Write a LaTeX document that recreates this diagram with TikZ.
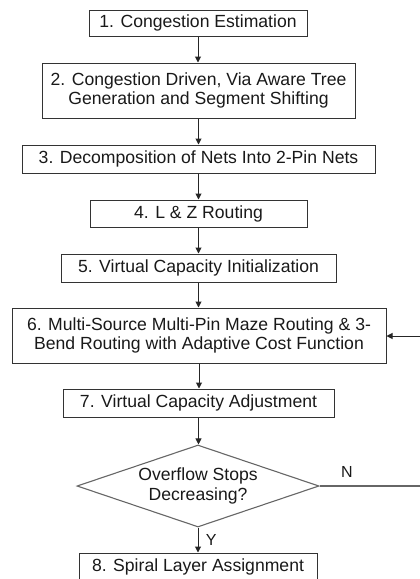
\documentclass[tikz,border=0pt]{standalone}
\usepackage{fontspec}
\setmainfont{Liberation Sans}
\usetikzlibrary{shapes.geometric,arrows.meta}
\begin{document}
\begin{tikzpicture}[x=1pt,y=-1pt,
  box/.style={draw=black!80, line width=1pt, rectangle, inner sep=0pt, align=center,
     font=\fontsize{17.6}{19.5}\selectfont, text=black!90},
  dia/.style={draw=black!60, line width=1.1pt, diamond, aspect=2.95, inner sep=-6pt, align=center,
     font=\fontsize{17.6}{19.5}\selectfont, text=black!90},
  arr/.style={draw=black!85, line width=1pt, -{Triangle[length=6pt,width=6pt]}},
  lbl/.style={font=\fontsize{16}{18}\selectfont, text=black!90}]
\clip (0,0) rectangle (420,579);
\useasboundingbox (0,0) rectangle (420,579);
\node[box, minimum width=218pt, minimum height=26pt] (b1) at (198,23) {1. Congestion Estimation};
\node[box, minimum width=313pt, minimum height=55pt] (b2) at (198.5,90.5) {2. Congestion Driven, Via Aware Tree\\Generation and Segment Shifting};
\node[box, minimum width=353pt, minimum height=28pt] (b3) at (198.5,159) {3. Decomposition of Nets Into 2-Pin Nets};
\node[box, minimum width=217pt, minimum height=27pt] (b4) at (198.5,213.5) {4. L \& Z Routing};
\node[box, minimum width=275pt, minimum height=28pt] (b5) at (198.5,268) {5. Virtual Capacity Initialization};
\node[box, minimum width=374pt, minimum height=55pt] (b6) at (199,335.5) {6. Multi-Source Multi-Pin Maze Routing \& 3-\\Bend Routing with Adaptive Cost Function};
\node[box, minimum width=271pt, minimum height=28pt] (b7) at (198.5,403) {7. Virtual Capacity Adjustment};
\node[dia, minimum width=242pt, minimum height=82pt] (d) at (198,486) {Overflow Stops\\Decreasing?};
\node[box, minimum width=238pt, minimum height=28pt] (b8) at (198,567) {8. Spiral Layer Assignment};
\coordinate (c1) at (430,486);
\coordinate (c2) at (430,336);
\draw[arr] (b1.south) -- (b1.south |- b2.north);
\draw[arr] (b2.south) -- (b2.south |- b3.north);
\draw[arr] (b3.south) -- (b3.south |- b4.north);
\draw[arr] (b4.south) -- (b4.south |- b5.north);
\draw[arr] (b5.south) -- (b5.south |- b6.north);
\draw[arr] (b6.south) -- (b6.south |- b7.north);
\draw[arr] (b7.south) -- (b7.south |- d.north);
\draw[arr] (d.south) -- (d.south |- b8.north) node[lbl, midway, right=4pt] (ly) {Y};
\draw[draw=black!60, line width=1.1pt] (d.east) -- (c1) -- (c2);
\draw[arr] (c2) -- (b6.east |- c2);
\node[lbl] (ln) at (347,472) {N};
\end{tikzpicture}
\end{document}
